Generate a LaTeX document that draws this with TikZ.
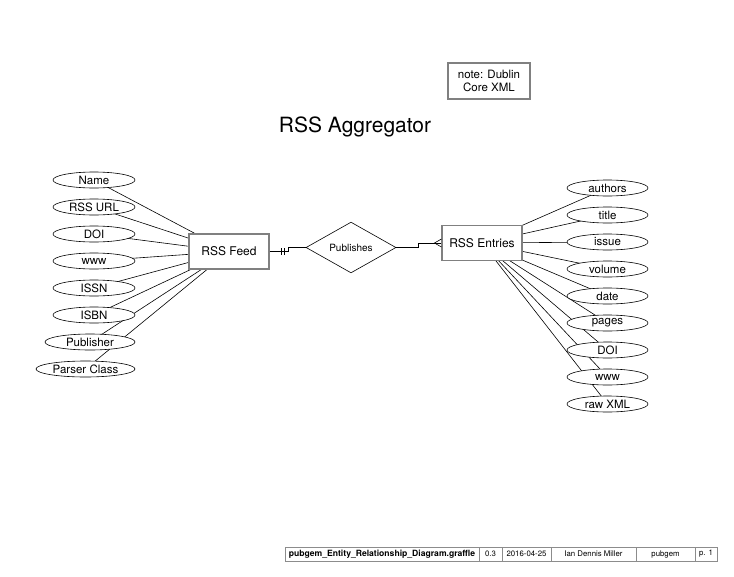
\documentclass[tikz,border=0pt]{standalone}
\usepackage{fontspec}
\setmainfont{TeX Gyre Heros}
\usetikzlibrary{shapes.geometric,backgrounds}

\begin{document}
\begin{tikzpicture}[
  x=1pt, y=-1pt,
  entity/.style={
    rectangle,
    draw=black!50,
    line width=1.1pt,
    fill=white,
    minimum width=80pt,
    minimum height=35pt,
    inner sep=0pt,
    font=\fontsize{12}{14}\selectfont
  },
  attr/.style={
    ellipse,
    draw,
    line width=0.6pt,
    fill=white,
    minimum width=82pt,
    minimum height=16pt,
    inner sep=0pt,
    font=\fontsize{11.5}{12}\selectfont
  },
  relation/.style={
    diamond,
    draw,
    line width=0.6pt,
    fill=white,
    minimum width=90pt,
    minimum height=45pt,
    inner sep=0pt,
    font=\fontsize{10}{11}\selectfont
  },
  link/.style={
    line width=0.6pt
  },
  cell/.style={
    rectangle,
    draw=black!45,
    line width=0.5pt,
    minimum height=14pt,
    inner sep=0pt,
    font=\fontsize{7.8}{9}\selectfont
  }
]

\path[use as bounding box] (0,0) rectangle (734,576);

% title and note
\node[font=\fontsize{21}{24}\selectfont] (title) at (355,127) {RSS Aggregator};
\node[rectangle, draw=black!50, line width=1.1pt, minimum width=82pt,
  minimum height=36pt, inner sep=0pt, align=center,
  font=\fontsize{11.5}{13.5}\selectfont] (note) at (489,81)
  {note: Dublin\\Core XML};

% entities and relation
\node[entity] (feed) at (229,251.5) {RSS Feed};
\node[entity] (entries) at (482,243) {RSS Entries};
\node[relation] (pub) at (351,247.5) {Publishes};

% RSS Feed attributes
\node[attr] (fname) at (94,180) {Name};
\node[attr] (furl) at (94,207) {RSS URL};
\node[attr] (fdoi) at (94,234) {DOI};
\node[attr] (fwww) at (94,261) {www};
\node[attr] (fissn) at (94,288) {ISSN};
\node[attr] (fisbn) at (94,315) {ISBN};
\node[attr, minimum width=90pt] (fpub) at (90,342) {Publisher};
\node[attr, minimum width=99pt] (fparser) at (85.5,369) {Parser Class};

% RSS Entries attributes
\node[attr, minimum width=81pt] (eauthors) at (607.5,188) {authors};
\node[attr, minimum width=81pt] (etitle) at (607.5,215) {title};
\node[attr, minimum width=81pt] (eissue) at (607.5,242) {issue};
\node[attr, minimum width=81pt] (evolume) at (607.5,269) {volume};
\node[attr, minimum width=81pt] (edate) at (607.5,296) {date};
\node[attr, minimum width=81pt] (epages) at (607.5,323) {pages};
\node[attr, minimum width=81pt] (edoi) at (607.5,350) {DOI};
\node[attr, minimum width=81pt] (ewww) at (607.5,377) {www};
\node[attr, minimum width=81pt] (eraw) at (607.5,404) {raw XML};

\begin{scope}[on background layer]
\foreach \a in {fname,furl,fdoi,fwww,fissn,fisbn,fpub,fparser}
  \draw[link] (\a.center) -- (feed.center);
\foreach \a in {eauthors,etitle,eissue,evolume,edate,epages,edoi,ewww,eraw}
  \draw[link] (\a.center) -- (entries.center);
\end{scope}

% relationship lines with crow's feet
\draw[link] (feed.east) -- ++(19,0) |- (pub.west);
\draw[link] ([xshift=11.5pt]feed.east) ++(0,-3.5) -- ++(0,7);
\draw[link] ([xshift=15pt]feed.east) ++(0,-3.5) -- ++(0,7);

\draw[link] (pub.east) -- ++(22,0) |- (entries.west);
\draw[link] ([yshift=4pt]entries.west) -- ([xshift=-7pt]entries.west)
  -- ([yshift=-4pt]entries.west);

% footer
\node[cell, minimum width=194pt, font=\fontsize{8.6}{9}\selectfont\bfseries]
  (ffile) at (382,554) {pubgem\_Entity\_Relationship\_Diagram.graffle};
\node[cell, minimum width=23pt] (fver) at (490.5,554) {0.3};
\node[cell, minimum width=49pt] (fdate) at (526.5,554) {2016-04-25};
\node[cell, minimum width=85pt] (fauthor) at (593.5,554) {Ian Dennis Miller};
\node[cell, minimum width=59pt] (fproj) at (665.5,554) {pubgem};
\node[cell, minimum width=22pt] (fpage) at (706,554) {p. 1};

\end{tikzpicture}
\end{document}
